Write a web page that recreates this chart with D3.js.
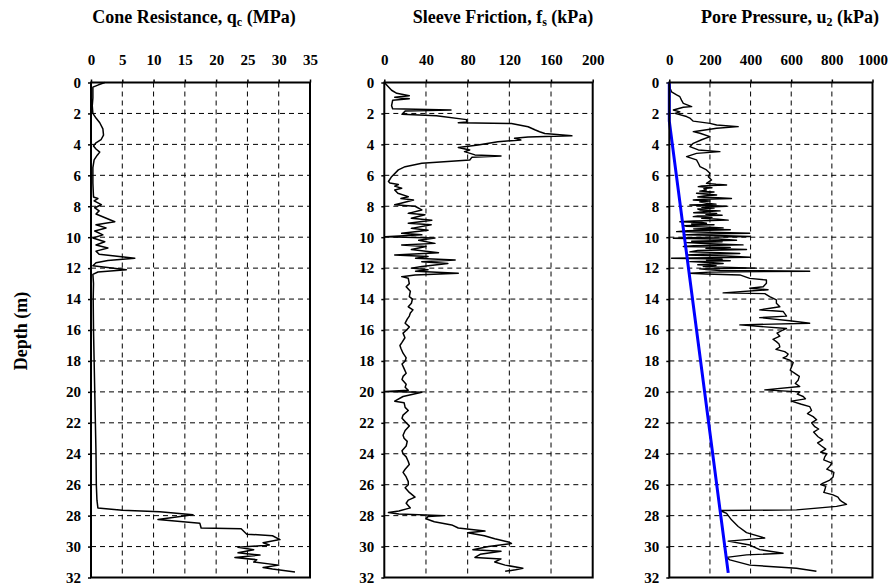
<!DOCTYPE html>
<html>
<head>
<meta charset="utf-8">
<script src="https://cdn.jsdelivr.net/npm/d3@7"></script>
<style>
  body { margin: 0; background: #fff; }
  svg text { font-family: "Liberation Serif", "Times New Roman", serif; font-weight: bold; fill: #000; }
</style>
</head>
<body>
<svg id="chart" width="888" height="585"></svg>
<script>
// depth ticks shared by all three panels
const depthTicks = d3.range(0, 33, 2);

// cone resistance qc (MPa)
const qcTicks = [0, 5, 10, 15, 20, 25, 30, 35];
const qcDepth = [0, 0.15, 0.3, 1, 1.5, 2, 2.3, 2.6, 3.0, 3.4, 3.7, 3.9, 4.1, 4.3, 4.5, 4.7, 5.0, 5.5, 6.5, 7.4,
  7.5, 7.65, 7.9, 8.1, 8.3, 8.5, 9.0, 9.2, 9.4, 9.6, 9.85, 10.05, 10.3, 10.5, 10.7, 10.9, 11.1, 11.36, 11.5, 11.65,
  11.85, 12.1, 12.25, 12.4, 13, 14, 16, 18, 20, 22, 24, 26, 27, 27.5, 27.65, 27.75, 27.95, 28.25, 28.5, 28.8,
  28.85, 29.2, 29.3, 29.55, 29.75, 29.9, 30.05, 30.2, 30.4, 30.55, 30.7, 30.85, 31.0, 31.2, 31.35, 31.45, 31.65];
const qcValue = [2.2, 1.2, 0.3, 0.3, 0.2, 0.3, 0.8, 1.4, 1.9, 2.0, 1.6, 0.8, 0.4, 0.8, 1.4, 1.0, 0.5, 0.3, 0.3, 0.4,
  1.1, 0.5, 1.65, 0.6, 1.3, 0.8, 3.8, 0.8, 2.4, 0.6, 1.9, 0.3, 2.2, 0.8, 2.7, 0.8, 1.3, 7.0, 2.7, 0.8,
  0.3, 5.65, 1.1, 0.3, 0.4, 0.35, 0.4, 0.5, 0.6, 0.7, 0.8, 0.85, 0.95, 1.1, 5, 11, 16.3, 10.7, 17.4, 17.6,
  24, 24.9, 29, 30.2, 27.5, 28.5, 23.5, 26, 23.5, 27, 23, 26.5, 26, 30, 27.5, 29, 32.6];

// sleeve friction fs (kPa)
const fsTicks = [0, 40, 80, 120, 160, 200];
const fsDepth = [0, 0.5, 0.7, 0.85, 0.95, 1.05, 1.15, 1.5, 1.7, 1.78, 1.85, 2.05, 2.15, 2.4, 2.55, 2.6, 2.65, 2.86,
  3.07, 3.18, 3.3, 3.45, 3.52, 3.6, 3.72, 3.83, 4.04, 4.2, 4.36, 4.47, 4.68, 4.75, 4.84, 5.01, 5.22, 5.44, 5.65,
  6.09, 6.4, 6.5, 6.6, 6.7, 6.84, 6.95, 7.16, 7.38, 7.5, 7.6, 7.8, 7.9, 8.0, 8.24, 8.46, 8.55, 8.78, 8.9, 9.1,
  9.2, 9.43, 9.55, 9.75, 9.85, 9.97, 10.05, 10.2, 10.4, 10.5, 10.6, 10.8, 11.0, 11.15, 11.25, 11.36, 11.47,
  11.58, 11.7, 11.9, 12.0, 12.1, 12.2, 12.33, 12.44, 12.55,
  12.66, 13.0, 13.2, 13.5, 13.84, 14.0, 14.27, 14.5, 14.7, 14.9, 15.1, 15.3, 15.56, 15.8, 16.0, 16.2, 16.5, 16.8,
  17, 17.2, 17.5, 17.8, 18, 18.2, 18.5, 18.8, 19, 19.2, 19.5, 19.7, 19.9, 19.97, 20.02, 20.3, 20.6, 20.7, 21, 21.2,
  21.5, 21.7, 22, 22.2, 22.5, 22.8, 23, 23.2, 23.5, 23.8, 24, 24.2, 24.5, 24.7, 25, 25.2, 25.5, 25.8, 26, 26.2,
  26.5, 26.8, 27, 27.2, 27.5,
  27.7, 27.8, 27.9, 28.0, 28.05, 28.2, 28.4, 28.6, 28.8, 29.0, 29.1, 29.3, 29.5, 29.7, 29.8, 30.0, 30.2, 30.3,
  30.5, 30.7, 30.8, 31.0, 31.2, 31.4, 31.5, 31.6];
const fsValue = [0, 7, 12, 24, 10, 24, 8, 7, 8, 64, 20, 17, 50, 79, 79, 71, 122, 138,
  145, 149, 154, 180, 138, 125, 131, 109, 90, 71, 82, 77, 87, 112, 84, 82, 36, 20, 13.5,
  7, 4, 5.4, 13.5, 10, 16.7, 10, 13, 23, 16, 28, 16, 10, 29.5, 36, 23, 39, 26, 45.6, 23,
  45, 26, 42, 16.7, 36, 1, 48.6, 33, 48.6, 16.7, 40, 26, 52, 10, 42, 30, 68,
  36, 61, 36, 26, 42, 30, 71, 29.5, 16.7,
  23, 24, 21, 25, 24, 27, 26, 23, 27.5, 25, 24, 22, 20, 24, 21.4, 18, 19.8, 17,
  15, 16, 18, 21, 20, 17, 19, 21, 18, 17, 21, 20, 23, 1, 36, 18, 10, 19, 20, 23,
  18, 17, 21, 24, 20, 18, 19, 22, 21, 17, 18, 21, 23, 24, 20, 18, 21, 23, 23, 20,
  24, 29.5, 23, 21, 25,
  14, 4, 14, 58, 42, 40, 48, 64.7, 71, 96.6, 80, 96, 106, 119, 122, 100, 85, 112,
  92, 87, 112, 106, 116, 133, 126, 116];

// pore pressure u2 (kPa)
const u2Ticks = [0, 200, 400, 600, 800, 1000];
const u2Depth = [0, 0.4, 0.6, 0.8, 0.92, 1.14, 1.35, 1.56, 1.6, 1.78, 1.9, 2.0, 2.2, 2.3, 2.5, 2.64, 2.75, 2.85,
  2.96, 3.18, 3.28, 3.5, 3.7, 3.93, 4.15, 4.36, 4.47, 4.58, 4.79, 5.0, 5.22, 5.44, 5.65, 5.87, 6.09, 6.3,
  6.52, 6.58, 6.63, 6.68, 6.73, 6.8, 6.86, 6.95, 7.02, 7.08,
  7.16, 7.22, 7.27, 7.33, 7.4, 7.45, 7.5, 7.55, 7.6, 7.66,
  7.72, 7.81, 7.86, 7.92, 8.0, 8.06, 8.12, 8.18, 8.24, 8.3,
  8.36, 8.42, 8.46, 8.52, 8.58, 8.62, 8.67, 8.72, 8.78, 8.84,
  8.9, 8.95, 9.0, 9.05, 9.1, 9.15, 9.2, 9.25, 9.3, 9.35,
  9.4, 9.46, 9.52, 9.58, 9.64, 9.7, 9.75, 9.8, 9.85, 9.9,
  9.96, 10.01, 10.07, 10.12, 10.2, 10.26, 10.3, 10.35, 10.42, 10.5,
  10.55, 10.6, 10.66, 10.72, 10.8, 10.86, 10.95, 11.0, 11.05, 11.1,
  11.15, 11.22, 11.3, 11.36, 11.42, 11.47, 11.52, 11.58, 11.64, 11.7,
  11.78, 11.84, 11.9, 11.95, 12.0, 12.05, 12.1, 12.15, 12.2, 12.26,
  12.33, 12.38, 12.44,
  12.66, 12.77, 12.98, 13.2, 13.3, 13.4, 13.6, 13.65, 13.84, 14.05, 14.27,
  14.5, 14.7, 14.8, 15.1, 15.2, 15.4, 15.56, 15.67,
  15.9, 16.0, 16.2, 16.4, 16.6, 16.75, 16.9, 17.1, 17.25, 17.4, 17.55, 17.7, 17.8, 17.95, 18.1, 18.4, 18.6, 18.8,
  19.0, 19.25, 19.45, 19.65, 19.87, 20.0, 20.15, 20.3, 20.45, 20.6, 20.8, 20.95, 21.2, 21.4, 21.6, 21.8, 22.0,
  22.25, 22.4, 22.6, 22.9, 23.1, 23.3, 23.5, 23.7, 23.9, 24.0, 24.2, 24.4, 24.6, 24.8, 25.0, 25.2, 25.5, 25.7,
  25.9, 26.0, 26.1, 26.35, 26.5, 26.66, 26.8, 26.98, 27.1, 27.27, 27.4, 27.63,
  27.67, 27.85, 28.27, 28.7, 29.1, 29.45, 29.65, 29.9, 30.2, 30.43, 30.54, 30.7, 30.86, 31.2, 31.4, 31.6];
const u2Value = [0, 5, 11, 36, 52, 60, 69, 110, 69, 20, 52, 28, 85, 101, 118, 200, 233, 339,
  233, 118, 151, 200, 159, 118, 101, 143, 249, 134, 85, 134, 143, 151, 183, 200, 192, 208,
  183, 230, 282, 160, 143, 210, 170, 183, 150, 220,
  134, 190, 233, 170, 140, 240, 306, 170, 118, 200,
  150, 183, 230, 101, 282, 160, 220, 140, 151, 250,
  170, 120, 233, 180, 260, 140, 118, 210, 160, 240,
  290, 120, 52, 160, 183, 110, 220, 70, 85, 200,
  265, 120, 300, 90, 36, 250, 396, 140, 69, 280,
  396, 150, 20, 240, 331, 110, 260, 85, 200, 363,
  120, 69, 300, 180, 380, 140, 101, 250, 347, 160,
  85, 280, 396, 11, 260, 183, 300, 101, 200, 265,
  140, 230, 167, 300, 429, 150, 183, 250, 691, 200,
  101, 180, 347,
  396, 478, 478, 462, 396, 486, 265, 470, 494, 527, 527,
  544, 445, 560, 577, 445, 593, 691, 347,
  577, 560, 530, 544, 510, 527, 540, 544, 525, 568, 585, 577, 560, 593, 610, 601, 595, 618,
  640, 634, 620, 642, 470, 642, 630, 659, 670, 601, 650, 691, 700, 680, 708, 725, 700,
  716, 735, 710, 732, 755, 730, 749, 770, 745, 775, 765, 760, 800, 790, 775, 810, 806, 790,
  757, 745, 770, 765, 760, 806, 830, 839, 850, 872, 823, 626,
  249, 282, 306, 339, 380, 470, 290, 396, 445, 560, 380, 282, 298, 396, 626, 724];

// hydrostatic line u0
const u0Depth = [0, 2.5, 31.7];
const u0Value = [0, 0, 290];

const svg = d3.select("#chart");
const yTop = 82.5, yBottom = 577.5;
const y = d3.scaleLinear().domain([0, 32]).range([yTop, yBottom]);
const serif = '"Liberation Serif", "Times New Roman", serif';

function zip(ds, vs) {
  if (ds.length !== vs.length) console.warn("length mismatch", ds.length, vs.length);
  return ds.map((d, i) => ({ d, v: vs[i] }));
}

const panels = [
  { x0: 91, x1: 310, max: 35, ticks: qcTicks, title: ["Cone Resistance, q", "c", " (MPa)"], tx: 194,
    lines: [{ data: zip(qcDepth, qcValue), color: "#000", width: 1.5 }] },
  { x0: 384.3, x1: 592.7, max: 200, ticks: fsTicks, title: ["Sleeve Friction, f", "s", " (kPa)"], tx: 503,
    lines: [{ data: zip(fsDepth, fsValue), color: "#000", width: 1.5 }] },
  { x0: 669.3, x1: 872.5, max: 1000, ticks: u2Ticks, title: ["Pore Pressure, u", "2", " (kPa)"], tx: 790,
    lines: [{ data: zip(u2Depth, u2Value), color: "#000", width: 1.4 },
            { data: zip(u0Depth, u0Value), color: "#0000ff", width: 3 }] },
];

panels.forEach(p => {
  const x = d3.scaleLinear().domain([0, p.max]).range([p.x0, p.x1]);
  const g = svg.append("g");

  // dashed grid
  g.selectAll(".gx").data(p.ticks.slice(1, -1)).join("line")
    .attr("x1", d => x(d)).attr("x2", d => x(d))
    .attr("y1", yTop).attr("y2", yBottom)
    .attr("stroke", "#000").attr("stroke-width", 1).attr("stroke-dasharray", "5,4");
  g.selectAll(".gy").data(depthTicks.slice(1, -1)).join("line")
    .attr("x1", p.x0).attr("x2", p.x1)
    .attr("y1", d => y(d)).attr("y2", d => y(d))
    .attr("stroke", "#000").attr("stroke-width", 1).attr("stroke-dasharray", "5,4");

  // axes
  const xAxis = g.append("g").attr("transform", `translate(0,${yTop})`)
    .call(d3.axisTop(x).tickValues(p.ticks).tickFormat(d3.format("d"))
      .tickSizeInner(3).tickSizeOuter(0).tickPadding(15));
  const yAxis = g.append("g").attr("transform", `translate(${p.x0},0)`)
    .call(d3.axisLeft(y).tickValues(depthTicks).tickSizeInner(3).tickSizeOuter(0).tickPadding(7));
  [xAxis, yAxis].forEach(a => {
    a.attr("font-family", serif).attr("font-size", 15);
    a.select(".domain").remove();
    a.selectAll("line").attr("stroke-width", 1.5);
  });

  // data lines
  const line = d3.line().x(d => x(d.v)).y(d => y(d.d));
  p.lines.forEach(l => {
    g.append("path").datum(l.data)
      .attr("d", line)
      .attr("fill", "none")
      .attr("stroke", l.color)
      .attr("stroke-width", l.width)
      .attr("stroke-linejoin", "round");
  });

  // frame
  g.append("rect")
    .attr("x", p.x0).attr("y", yTop)
    .attr("width", p.x1 - p.x0).attr("height", yBottom - yTop)
    .attr("fill", "none").attr("stroke", "#000").attr("stroke-width", 2);

  // title with subscript
  const t = svg.append("text").attr("x", p.tx).attr("y", 23)
    .attr("text-anchor", "middle").attr("font-size", 18);
  t.append("tspan").text(p.title[0]);
  t.append("tspan").attr("font-size", 12).attr("dy", 3).text(p.title[1]);
  t.append("tspan").attr("dy", -3).text(p.title[2]);
});

svg.append("text")
  .attr("transform", "translate(27,331) rotate(-90)")
  .attr("text-anchor", "middle")
  .attr("font-size", 18)
  .text("Depth (m)");
</script>
</body>
</html>
